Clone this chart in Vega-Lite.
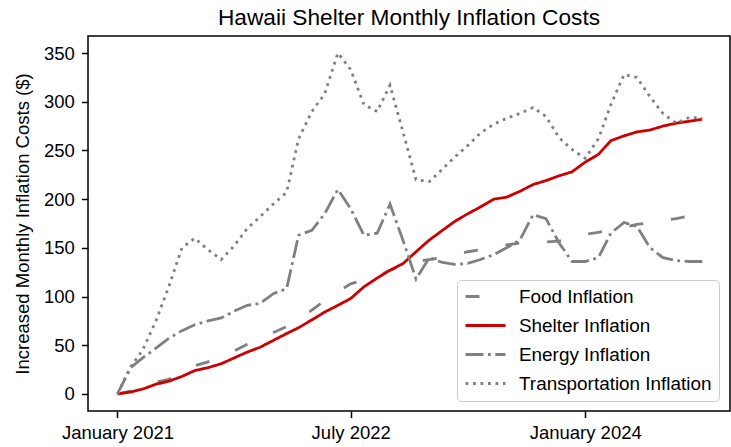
{
  "$schema": "https://vega.github.io/schema/vega-lite/v6.json",
  "autosize": {"type": "none"},
  "padding": {"left": 88, "top": 36, "right": 1, "bottom": 36},
  "width": 642,
  "height": 375,
  "background": "white",
  "title": {"text": "Hawaii Shelter Monthly Inflation Costs", "fontSize": 22.7, "font": "Liberation Sans", "fontWeight": "normal", "color": "black", "anchor": "middle", "offset": -12, "baseline": "alphabetic"},
  "config": {
    "view": {"stroke": "black", "strokeWidth": 1.5},
    "font": "Liberation Sans"
  },
  "data": {"values": [
    {"date":"2021-01-01","series":"Food Inflation","value":0},
    {"date":"2021-02-01","series":"Food Inflation","value":3},
    {"date":"2021-03-01","series":"Food Inflation","value":7},
    {"date":"2021-04-01","series":"Food Inflation","value":12},
    {"date":"2021-05-01","series":"Food Inflation","value":15},
    {"date":"2021-06-01","series":"Food Inflation","value":22},
    {"date":"2021-07-01","series":"Food Inflation","value":29},
    {"date":"2021-08-01","series":"Food Inflation","value":33},
    {"date":"2021-09-01","series":"Food Inflation","value":37},
    {"date":"2021-10-01","series":"Food Inflation","value":44},
    {"date":"2021-11-01","series":"Food Inflation","value":51},
    {"date":"2021-12-01","series":"Food Inflation","value":57},
    {"date":"2022-01-01","series":"Food Inflation","value":63},
    {"date":"2022-02-01","series":"Food Inflation","value":69},
    {"date":"2022-03-01","series":"Food Inflation","value":77},
    {"date":"2022-04-01","series":"Food Inflation","value":86},
    {"date":"2022-05-01","series":"Food Inflation","value":96},
    {"date":"2022-06-01","series":"Food Inflation","value":105},
    {"date":"2022-07-01","series":"Food Inflation","value":113},
    {"date":"2022-08-01","series":"Food Inflation","value":117},
    {"date":"2022-09-01","series":"Food Inflation","value":121},
    {"date":"2022-10-01","series":"Food Inflation","value":127},
    {"date":"2022-11-01","series":"Food Inflation","value":132},
    {"date":"2022-12-01","series":"Food Inflation","value":136},
    {"date":"2023-01-01","series":"Food Inflation","value":138},
    {"date":"2023-02-01","series":"Food Inflation","value":140},
    {"date":"2023-03-01","series":"Food Inflation","value":143},
    {"date":"2023-04-01","series":"Food Inflation","value":146},
    {"date":"2023-05-01","series":"Food Inflation","value":148},
    {"date":"2023-06-01","series":"Food Inflation","value":150},
    {"date":"2023-07-01","series":"Food Inflation","value":153},
    {"date":"2023-08-01","series":"Food Inflation","value":155},
    {"date":"2023-09-01","series":"Food Inflation","value":156},
    {"date":"2023-10-01","series":"Food Inflation","value":156},
    {"date":"2023-11-01","series":"Food Inflation","value":157},
    {"date":"2023-12-01","series":"Food Inflation","value":160},
    {"date":"2024-01-01","series":"Food Inflation","value":164},
    {"date":"2024-02-01","series":"Food Inflation","value":166},
    {"date":"2024-03-01","series":"Food Inflation","value":168},
    {"date":"2024-04-01","series":"Food Inflation","value":171},
    {"date":"2024-05-01","series":"Food Inflation","value":174},
    {"date":"2024-06-01","series":"Food Inflation","value":176},
    {"date":"2024-07-01","series":"Food Inflation","value":178},
    {"date":"2024-08-01","series":"Food Inflation","value":180},
    {"date":"2024-09-01","series":"Food Inflation","value":183},
    {"date":"2024-10-01","series":"Food Inflation","value":185},

    {"date":"2021-01-01","series":"Shelter Inflation","value":0},
    {"date":"2021-02-01","series":"Shelter Inflation","value":2},
    {"date":"2021-03-01","series":"Shelter Inflation","value":5},
    {"date":"2021-04-01","series":"Shelter Inflation","value":10},
    {"date":"2021-05-01","series":"Shelter Inflation","value":13},
    {"date":"2021-06-01","series":"Shelter Inflation","value":18},
    {"date":"2021-07-01","series":"Shelter Inflation","value":24},
    {"date":"2021-08-01","series":"Shelter Inflation","value":27},
    {"date":"2021-09-01","series":"Shelter Inflation","value":31},
    {"date":"2021-10-01","series":"Shelter Inflation","value":37},
    {"date":"2021-11-01","series":"Shelter Inflation","value":43},
    {"date":"2021-12-01","series":"Shelter Inflation","value":48},
    {"date":"2022-01-01","series":"Shelter Inflation","value":55},
    {"date":"2022-02-01","series":"Shelter Inflation","value":62},
    {"date":"2022-03-01","series":"Shelter Inflation","value":68},
    {"date":"2022-04-01","series":"Shelter Inflation","value":76},
    {"date":"2022-05-01","series":"Shelter Inflation","value":84},
    {"date":"2022-06-01","series":"Shelter Inflation","value":91},
    {"date":"2022-07-01","series":"Shelter Inflation","value":98},
    {"date":"2022-08-01","series":"Shelter Inflation","value":110},
    {"date":"2022-09-01","series":"Shelter Inflation","value":119},
    {"date":"2022-10-01","series":"Shelter Inflation","value":127},
    {"date":"2022-11-01","series":"Shelter Inflation","value":134},
    {"date":"2022-12-01","series":"Shelter Inflation","value":146},
    {"date":"2023-01-01","series":"Shelter Inflation","value":158},
    {"date":"2023-02-01","series":"Shelter Inflation","value":168},
    {"date":"2023-03-01","series":"Shelter Inflation","value":177},
    {"date":"2023-04-01","series":"Shelter Inflation","value":185},
    {"date":"2023-05-01","series":"Shelter Inflation","value":192},
    {"date":"2023-06-01","series":"Shelter Inflation","value":200},
    {"date":"2023-07-01","series":"Shelter Inflation","value":202},
    {"date":"2023-08-01","series":"Shelter Inflation","value":208},
    {"date":"2023-09-01","series":"Shelter Inflation","value":215},
    {"date":"2023-10-01","series":"Shelter Inflation","value":219},
    {"date":"2023-11-01","series":"Shelter Inflation","value":224},
    {"date":"2023-12-01","series":"Shelter Inflation","value":228},
    {"date":"2024-01-01","series":"Shelter Inflation","value":238},
    {"date":"2024-02-01","series":"Shelter Inflation","value":246},
    {"date":"2024-03-01","series":"Shelter Inflation","value":260},
    {"date":"2024-04-01","series":"Shelter Inflation","value":265},
    {"date":"2024-05-01","series":"Shelter Inflation","value":269},
    {"date":"2024-06-01","series":"Shelter Inflation","value":271},
    {"date":"2024-07-01","series":"Shelter Inflation","value":275},
    {"date":"2024-08-01","series":"Shelter Inflation","value":278},
    {"date":"2024-09-01","series":"Shelter Inflation","value":280},
    {"date":"2024-10-01","series":"Shelter Inflation","value":282},

    {"date":"2021-01-01","series":"Energy Inflation","value":0},
    {"date":"2021-02-01","series":"Energy Inflation","value":27},
    {"date":"2021-03-01","series":"Energy Inflation","value":37},
    {"date":"2021-04-01","series":"Energy Inflation","value":47},
    {"date":"2021-05-01","series":"Energy Inflation","value":57},
    {"date":"2021-06-01","series":"Energy Inflation","value":65},
    {"date":"2021-07-01","series":"Energy Inflation","value":71},
    {"date":"2021-08-01","series":"Energy Inflation","value":75},
    {"date":"2021-09-01","series":"Energy Inflation","value":78},
    {"date":"2021-10-01","series":"Energy Inflation","value":85},
    {"date":"2021-11-01","series":"Energy Inflation","value":91},
    {"date":"2021-12-01","series":"Energy Inflation","value":93},
    {"date":"2022-01-01","series":"Energy Inflation","value":103},
    {"date":"2022-02-01","series":"Energy Inflation","value":108},
    {"date":"2022-03-01","series":"Energy Inflation","value":163},
    {"date":"2022-04-01","series":"Energy Inflation","value":168},
    {"date":"2022-05-01","series":"Energy Inflation","value":185},
    {"date":"2022-06-01","series":"Energy Inflation","value":210},
    {"date":"2022-07-01","series":"Energy Inflation","value":190},
    {"date":"2022-08-01","series":"Energy Inflation","value":163},
    {"date":"2022-09-01","series":"Energy Inflation","value":165},
    {"date":"2022-10-01","series":"Energy Inflation","value":195},
    {"date":"2022-11-01","series":"Energy Inflation","value":157},
    {"date":"2022-12-01","series":"Energy Inflation","value":118},
    {"date":"2023-01-01","series":"Energy Inflation","value":140},
    {"date":"2023-02-01","series":"Energy Inflation","value":135},
    {"date":"2023-03-01","series":"Energy Inflation","value":133},
    {"date":"2023-04-01","series":"Energy Inflation","value":134},
    {"date":"2023-05-01","series":"Energy Inflation","value":138},
    {"date":"2023-06-01","series":"Energy Inflation","value":143},
    {"date":"2023-07-01","series":"Energy Inflation","value":150},
    {"date":"2023-08-01","series":"Energy Inflation","value":158},
    {"date":"2023-09-01","series":"Energy Inflation","value":184},
    {"date":"2023-10-01","series":"Energy Inflation","value":180},
    {"date":"2023-11-01","series":"Energy Inflation","value":155},
    {"date":"2023-12-01","series":"Energy Inflation","value":136},
    {"date":"2024-01-01","series":"Energy Inflation","value":136},
    {"date":"2024-02-01","series":"Energy Inflation","value":140},
    {"date":"2024-03-01","series":"Energy Inflation","value":165},
    {"date":"2024-04-01","series":"Energy Inflation","value":176},
    {"date":"2024-05-01","series":"Energy Inflation","value":172},
    {"date":"2024-06-01","series":"Energy Inflation","value":150},
    {"date":"2024-07-01","series":"Energy Inflation","value":140},
    {"date":"2024-08-01","series":"Energy Inflation","value":137},
    {"date":"2024-09-01","series":"Energy Inflation","value":136},
    {"date":"2024-10-01","series":"Energy Inflation","value":136},

    {"date":"2021-01-01","series":"Transportation Inflation","value":0},
    {"date":"2021-02-01","series":"Transportation Inflation","value":28},
    {"date":"2021-03-01","series":"Transportation Inflation","value":45},
    {"date":"2021-04-01","series":"Transportation Inflation","value":75},
    {"date":"2021-05-01","series":"Transportation Inflation","value":110},
    {"date":"2021-06-01","series":"Transportation Inflation","value":150},
    {"date":"2021-07-01","series":"Transportation Inflation","value":160},
    {"date":"2021-08-01","series":"Transportation Inflation","value":148},
    {"date":"2021-09-01","series":"Transportation Inflation","value":138},
    {"date":"2021-10-01","series":"Transportation Inflation","value":152},
    {"date":"2021-11-01","series":"Transportation Inflation","value":170},
    {"date":"2021-12-01","series":"Transportation Inflation","value":182},
    {"date":"2022-01-01","series":"Transportation Inflation","value":195},
    {"date":"2022-02-01","series":"Transportation Inflation","value":207},
    {"date":"2022-03-01","series":"Transportation Inflation","value":262},
    {"date":"2022-04-01","series":"Transportation Inflation","value":290},
    {"date":"2022-05-01","series":"Transportation Inflation","value":308},
    {"date":"2022-06-01","series":"Transportation Inflation","value":350},
    {"date":"2022-07-01","series":"Transportation Inflation","value":333},
    {"date":"2022-08-01","series":"Transportation Inflation","value":297},
    {"date":"2022-09-01","series":"Transportation Inflation","value":290},
    {"date":"2022-10-01","series":"Transportation Inflation","value":317},
    {"date":"2022-11-01","series":"Transportation Inflation","value":268},
    {"date":"2022-12-01","series":"Transportation Inflation","value":220},
    {"date":"2023-01-01","series":"Transportation Inflation","value":218},
    {"date":"2023-02-01","series":"Transportation Inflation","value":231},
    {"date":"2023-03-01","series":"Transportation Inflation","value":243},
    {"date":"2023-04-01","series":"Transportation Inflation","value":255},
    {"date":"2023-05-01","series":"Transportation Inflation","value":268},
    {"date":"2023-06-01","series":"Transportation Inflation","value":277},
    {"date":"2023-07-01","series":"Transportation Inflation","value":283},
    {"date":"2023-08-01","series":"Transportation Inflation","value":288},
    {"date":"2023-09-01","series":"Transportation Inflation","value":294},
    {"date":"2023-10-01","series":"Transportation Inflation","value":285},
    {"date":"2023-11-01","series":"Transportation Inflation","value":263},
    {"date":"2023-12-01","series":"Transportation Inflation","value":251},
    {"date":"2024-01-01","series":"Transportation Inflation","value":242},
    {"date":"2024-02-01","series":"Transportation Inflation","value":262},
    {"date":"2024-03-01","series":"Transportation Inflation","value":297},
    {"date":"2024-04-01","series":"Transportation Inflation","value":328},
    {"date":"2024-05-01","series":"Transportation Inflation","value":325},
    {"date":"2024-06-01","series":"Transportation Inflation","value":305},
    {"date":"2024-07-01","series":"Transportation Inflation","value":288},
    {"date":"2024-08-01","series":"Transportation Inflation","value":278},
    {"date":"2024-09-01","series":"Transportation Inflation","value":284},
    {"date":"2024-10-01","series":"Transportation Inflation","value":283}
  ]},
  "mark": {"type": "line", "strokeWidth": 2.8},
  "encoding": {
    "x": {
      "field": "date", "type": "temporal",
      "scale": {"type": "utc", "domain": [{"year": 2020, "month": 10, "date": 24, "utc": true}, {"year": 2024, "month": 12, "date": 5, "utc": true}], "nice": false},
      "axis": {
        "title": null,
        "values": [{"year": 2021, "month": 1, "date": 1, "utc": true}, {"year": 2022, "month": 7, "date": 1, "utc": true}, {"year": 2024, "month": 1, "date": 1, "utc": true}],
        "labelExpr": "utcFormat(datum.value, '%B %Y')",
        "grid": false, "domain": false,
        "tickSize": 6.6, "tickWidth": 1.5, "tickColor": "black",
        "labelFontSize": 18.5, "labelColor": "black", "labelFont": "Liberation Sans", "labelPadding": 6,
        "labelOverlap": false, "labelFlush": false
      }
    },
    "y": {
      "field": "value", "type": "quantitative",
      "scale": {"domain": [-17.5, 367.5], "nice": false, "zero": false},
      "axis": {
        "title": "Increased Monthly Inflation Costs ($)",
        "values": [0, 50, 100, 150, 200, 250, 300, 350],
        "grid": false, "domain": false,
        "tickSize": 6.6, "tickWidth": 1.5, "tickColor": "black",
        "labelFontSize": 18.5, "labelColor": "black", "labelFont": "Liberation Sans", "labelPadding": 7,
        "titleFontSize": 18.5, "titleFont": "Liberation Sans", "titleFontWeight": "normal", "titleColor": "black",
        "titleX": -66, "titleY": 187.5, "titleAngle": 270, "titleAlign": "center", "titleBaseline": "middle"
      }
    },
    "color": {
      "field": "series", "type": "nominal",
      "scale": {"domain": ["Food Inflation", "Shelter Inflation", "Energy Inflation", "Transportation Inflation"], "range": ["#808080", "#cc0000", "#808080", "#808080"]},
      "legend": {
        "title": null, "orient": "none", "legendX": 369, "legendY": 244,
        "symbolType": "stroke", "symbolSize": 1600, "symbolStrokeWidth": 2.8,
        "labelFontSize": 18.9, "labelFont": "Liberation Sans", "labelColor": "black", "labelOffset": 12, "labelLimit": 400,
        "clipHeight": 19, "rowPadding": 9, "padding": 7, "strokeColor": "#cccccc", "fillColor": "white", "cornerRadius": 4
      }
    },
    "strokeDash": {
      "field": "series", "type": "nominal",
      "scale": {"domain": ["Food Inflation", "Shelter Inflation", "Energy Inflation", "Transportation Inflation"], "range": [[14, 28], [1, 0], [18, 4.5, 2.8, 4.5], [2.8, 4.7]]},
      "legend": {
        "title": null, "orient": "none", "legendX": 369, "legendY": 244,
        "symbolType": "stroke", "symbolSize": 1600, "symbolStrokeWidth": 2.8,
        "labelFontSize": 18.9, "labelFont": "Liberation Sans", "labelColor": "black", "labelOffset": 12, "labelLimit": 400,
        "clipHeight": 19, "rowPadding": 9, "padding": 7, "strokeColor": "#cccccc", "fillColor": "white", "cornerRadius": 4
      }
    }
  }
}
